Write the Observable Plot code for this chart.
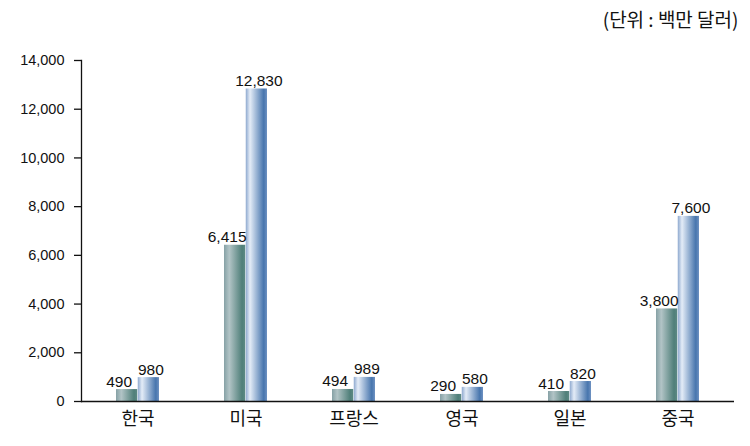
<!DOCTYPE html>
<html>
<head>
<meta charset="utf-8">
<script src="https://cdn.jsdelivr.net/npm/d3@7"></script>
<script src="https://cdn.jsdelivr.net/npm/@observablehq/plot@0.6"></script>
<style>
  html, body { margin: 0; padding: 0; background: #fff; }
  svg { display: block; }
</style>
</head>
<body>
<div id="chart"></div>
<script>
const categories = ["한국", "미국", "프랑스", "영국", "일본", "중국"];
const seriesA = [490, 6415, 494, 290, 410, 3800];
const seriesB = [980, 12830, 989, 580, 820, 7600];
const yTicks = [0, 2000, 4000, 6000, 8000, 10000, 12000, 14000];
const unitNote = "(단위 : 백만 달러)";

const rowsA = categories.map((c, i) => ({category: c, value: seriesA[i]}));
const rowsB = categories.map((c, i) => ({category: c, value: seriesB[i]}));
const fmt = d3.format(",");
const half = 21.75;

const plot = Plot.plot({
  width: 750,
  height: 446,
  marginLeft: 81,
  marginRight: 16,
  marginTop: 60,
  marginBottom: 45,
  style: {fontFamily: "'Liberation Sans', Arial, sans-serif", fontSize: "14px", color: "#111", background: "#fff"},
  x: {domain: categories, paddingInner: 0.6, paddingOuter: 0.3, align: 0.5, label: null},
  y: {domain: [0, 14000], label: null},
  marks: [
    () => {
      const ns = "http://www.w3.org/2000/svg";
      const defs = document.createElementNS(ns, "defs");
      defs.innerHTML = `
        <linearGradient id="gA" x1="0" x2="1" y1="0" y2="0">
          <stop offset="0" stop-color="#86a1a5"/>
          <stop offset="0.25" stop-color="#b2c4c6"/>
          <stop offset="0.85" stop-color="#4f7f79"/>
          <stop offset="1" stop-color="#5d8a84"/>
        </linearGradient>
        <linearGradient id="gB" x1="0" x2="1" y1="0" y2="0">
          <stop offset="0" stop-color="#8ea9cf"/>
          <stop offset="0.2" stop-color="#e4ecf7"/>
          <stop offset="0.85" stop-color="#4775ad"/>
          <stop offset="1" stop-color="#6f92c2"/>
        </linearGradient>`;
      return defs;
    },
    Plot.barY(rowsA, {x: "category", y: "value", fill: "url(#gA)", insetRight: half}),
    Plot.barY(rowsB, {x: "category", y: "value", fill: "url(#gB)", insetLeft: half}),
    Plot.text(rowsA, {x: "category", y: "value", text: d => fmt(d.value), dx: -half / 2 - 8, dy: -3, lineAnchor: "bottom", fontSize: 15.5, fill: "#111"}),
    Plot.text(rowsB, {x: "category", y: "value", text: d => fmt(d.value), dx: half / 2 + 2, dy: -3, lineAnchor: "bottom", fontSize: 15.5, fill: "#111"}),
    Plot.axisY({ticks: yTicks, tickFormat: fmt, tickSize: 7, tickPadding: 10, fontSize: 14.5, label: null, stroke: "#111", strokeWidth: 1.3}),
    Plot.axisX({tickSize: 0, tickPadding: 11, fontSize: 18, fontFamily: "'Noto Sans CJK KR', sans-serif", label: null}),
    Plot.frame({anchor: "left", stroke: "#111", strokeWidth: 1.3}),
    Plot.ruleY([0], {stroke: "#111", strokeWidth: 1.5}),
    Plot.text([unitNote], {frameAnchor: "top-right", dx: 4, dy: -40, lineAnchor: "middle", fontSize: 19, fontFamily: "'Noto Sans CJK KR', sans-serif", fill: "#111", textAnchor: "end"})
  ]
});
document.getElementById("chart").appendChild(plot);
</script>
</body>
</html>
